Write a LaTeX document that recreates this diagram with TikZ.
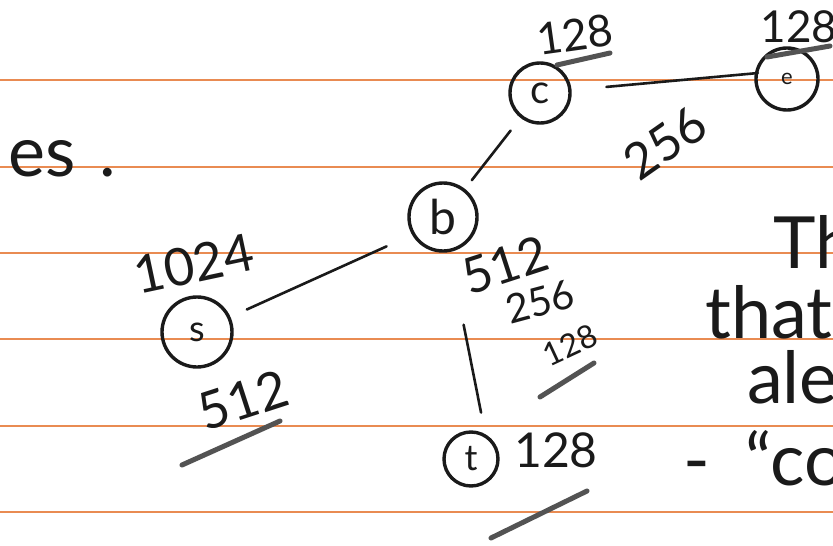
\documentclass[tikz,border=0pt]{standalone}
\usepackage{fontspec}
\usepackage{xcolor}
\usepackage{tikz}
\setmainfont{Lato}
\definecolor{ruleorange}{HTML}{E98B52}
\definecolor{ink}{HTML}{1A1A1A}

\begin{document}
\begin{tikzpicture}[x=1pt,y=-1pt,
  vert/.style={circle,draw=ink,line width=3.4pt,inner sep=0pt,text=ink},
  edge/.style={draw=ink,line width=2.6pt,line cap=round},
  uline/.style={draw=ink!75,line width=5pt,line cap=round},
  hand/.style={text=ink,inner sep=0pt,font=\fontsize{#1}{#1}\selectfont},
  hand/.default=44]
  \useasboundingbox (0,0) rectangle (833,546);
  \clip (0,0) rectangle (833,546);
  \fill[white] (0,0) rectangle (833,546);
  \foreach \y in {80,167,253,339,426,512}
    \draw[ruleorange,line width=1.6pt] (0,\y) -- (833,\y);

  \node[vert,minimum size=70pt,font=\fontsize{36}{36}\selectfont] (s) at (197,332) {s};
  \node[vert,minimum size=68pt,font=\fontsize{48}{48}\selectfont] (b) at (443,217) {b};
  \node[vert,minimum size=60pt,font=\fontsize{40}{40}\selectfont] (c) at (540,93) {c};
  \node[vert,minimum size=62pt,font=\fontsize{22}{22}\selectfont] (e) at (787,79) {e};
  \node[vert,minimum size=54pt,font=\fontsize{36}{36}\selectfont] (t) at (471,459) {t};

  \draw[edge,shorten <=18pt,shorten >=28pt] (s) -- (b.-150);
  \draw[edge,shorten <=11pt,shorten >=16pt] (b) -- (c);
  \draw[edge,shorten <=35pt,shorten >=-3pt] (c) -- (e.170);
  \draw[edge,shorten <=74pt,shorten >=22pt] (b.-80) -- (t.60);

  \node[hand=52,rotate=12] (l1024) at (194,264) {1024};
  \node[hand=52,rotate=18] (l512s) at (243,400) {512};
  \draw[uline] (182,465) -- (280,421);
  \node[hand=44,rotate=8] (l128c) at (575,35) {128};
  \draw[uline] (557,65) -- (610,53);
  \node[hand=44] (l128e) at (799,27) {128};
  \draw[uline] (767,57) -- (830,46);
  \node[hand=50,rotate=35] (l256ce) at (665,143) {256};
  \node[hand=50,rotate=18] (l512b) at (505,265) {512};
  \node[hand=40,rotate=15] (l256b) at (540,302) {256};
  \node[hand=32,rotate=25] (l128b) at (570,345) {128};
  \draw[uline] (540,397) -- (594,363);
  \node[hand=48] (l128t) at (556,450) {128};
  \draw[uline] (491,538) -- (587,491);

  \node[hand=70,anchor=base west] (es) at (8,176) {es\hspace{0.35em}.};
  \node[hand=72,anchor=base west] (th) at (773,268) {Th};
  \node[hand=72,anchor=base west] (that) at (705,338) {that};
  \node[hand=72,anchor=base west] (ale) at (747,403) {ale};
  \node[hand=72,anchor=base west] (copi) at (683,485) {-\hspace{0.5em}``copi};
\end{tikzpicture}
\end{document}
